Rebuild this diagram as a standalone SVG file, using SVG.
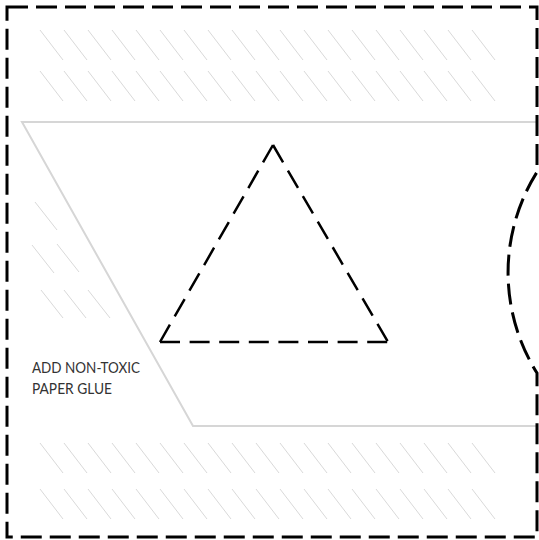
<svg xmlns="http://www.w3.org/2000/svg" width="539" height="540" viewBox="0 0 539 540">
<style>
.hatch{stroke:#d9d9d9;stroke-width:1;fill:none}
.fold{stroke:#d6d6d6;stroke-width:2;fill:none;stroke-linejoin:miter}
.cut{stroke:#000;stroke-width:3;fill:none;stroke-dasharray:21 8}
.tri{stroke:#000;stroke-width:2.5;fill:none;stroke-dasharray:20 9.6;stroke-linecap:butt}
.lbl{font-family:Lato,"Liberation Sans",Arial,sans-serif;font-size:15px;fill:#333333}
</style>
<defs>
<path id="h" d="M0,0 l23,30"/>
<g id="row">
<use href="#h" x="40"/><use href="#h" x="64"/><use href="#h" x="88"/><use href="#h" x="112"/><use href="#h" x="136"/><use href="#h" x="160"/><use href="#h" x="184"/><use href="#h" x="208"/><use href="#h" x="232"/><use href="#h" x="256"/><use href="#h" x="280"/><use href="#h" x="304"/><use href="#h" x="328"/><use href="#h" x="352"/><use href="#h" x="376"/><use href="#h" x="400"/><use href="#h" x="424"/><use href="#h" x="448"/><use href="#h" x="472"/>
</g>
</defs>
<rect width="539" height="540" fill="#fff"/>
<g id="hatching" class="hatch">
<use href="#row" y="30"/>
<use href="#row" y="71"/>
<use href="#row" y="443"/>
<use href="#row" y="489"/>
<path d="M35,202 l22,28 M32,245 l22,28 M57,244 l22,28 M41,290 l22,28 M64,290 l22,28 M88,290 l22,28"/>
</g>
<g id="glue-flap">
<path class="fold" d="M537,122 H22 L193,426 H537"/>
</g>
<g id="outline">
<path class="cut" d="M7,7 H537 V172 A189,189 0 0,0 537,373 V537 H7 Z"/>
</g>
<g id="triangle">
<path class="tri" d="M273,145 L160,342"/>
<path class="tri" d="M273,145 L388,342"/>
<path class="tri" d="M160,342 L388,342"/>
</g>
<g id="label">
<text class="lbl" x="32" y="373" textLength="108" lengthAdjust="spacingAndGlyphs">ADD NON-TOXIC</text>
<text class="lbl" x="32" y="394" textLength="80" lengthAdjust="spacingAndGlyphs">PAPER GLUE</text>
</g>
</svg>
